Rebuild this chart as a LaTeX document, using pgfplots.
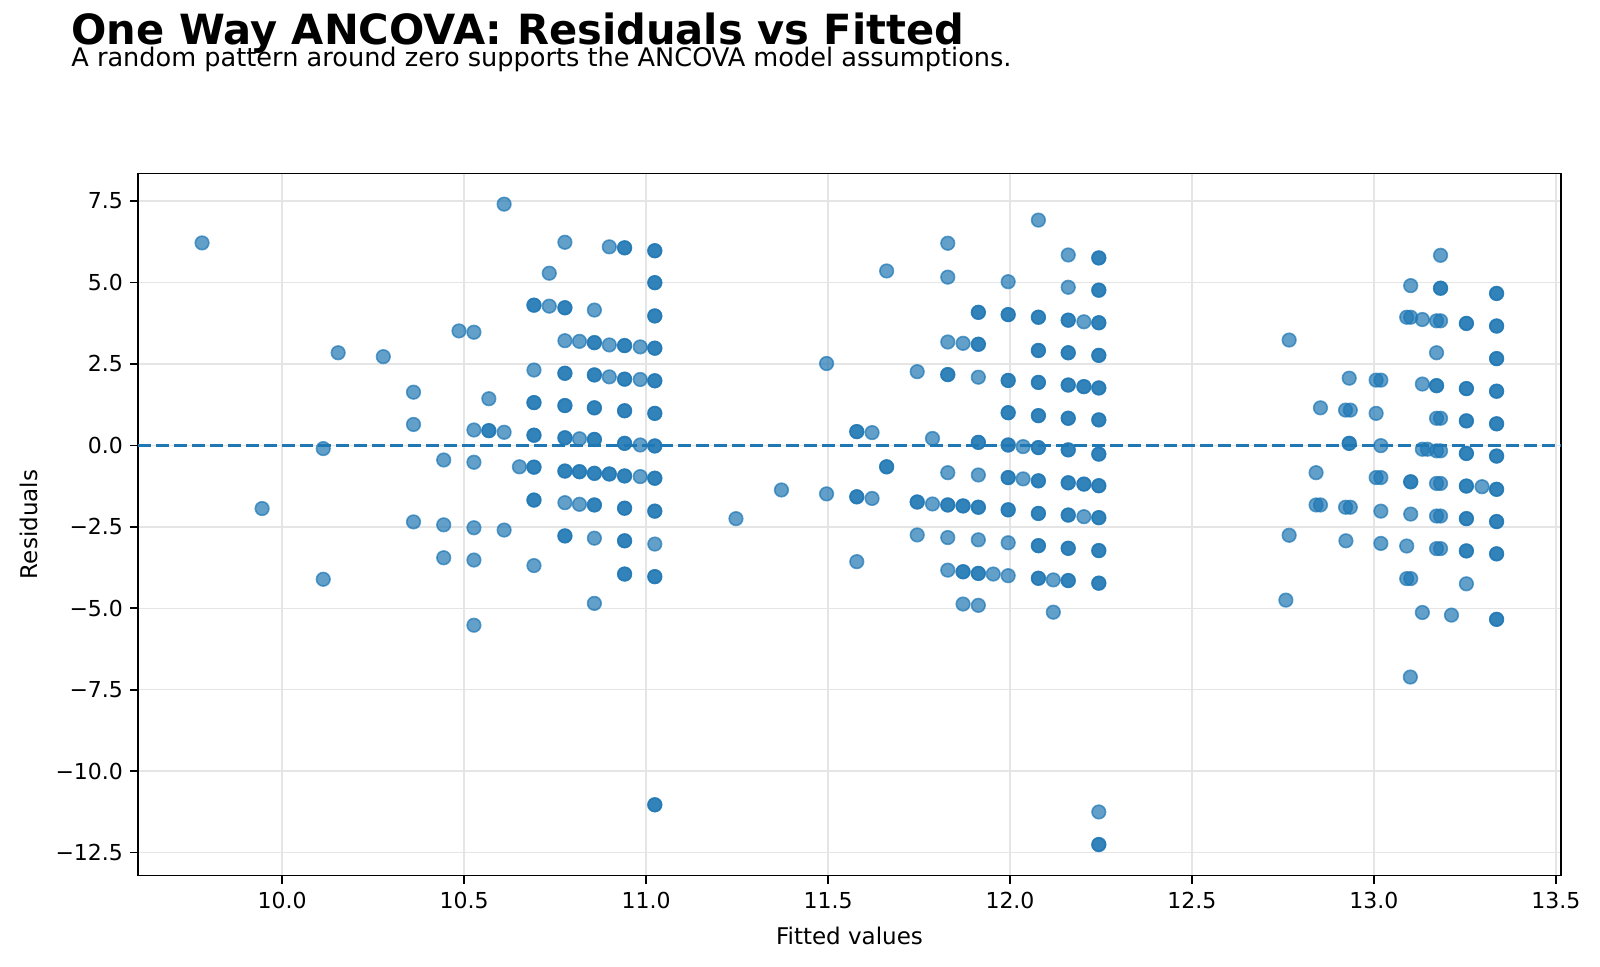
\documentclass[border=0pt]{standalone}
\usepackage{pgfplots}
\pgfplotsset{compat=1.18}
\usepackage{fontspec}
\setmainfont{DejaVu Sans}
\definecolor{tabblue}{RGB}{31,119,180}
\pgfplotstableread{
x y
9.780 6.21
9.945 -1.94
10.113 -0.10
10.113 -4.11
10.154 2.84
10.278 2.72
10.361 1.63
10.361 0.64
10.361 -2.35
10.444 -0.45
10.444 -2.44
10.444 -3.45
10.486 3.51
10.527 3.47
10.527 0.47
10.527 -0.52
10.527 -2.53
10.527 -3.52
10.527 -5.52
10.568 1.43
10.568 0.45
10.568 0.45
10.610 7.40
10.610 0.40
10.610 -2.60
10.652 -0.66
10.692 4.30
10.692 4.30
10.692 2.31
10.692 1.31
10.692 1.31
10.692 0.31
10.692 0.31
10.692 -0.67
10.692 -0.67
10.692 -1.68
10.692 -1.68
10.692 -3.69
10.734 5.28
10.734 4.27
10.777 6.23
10.777 4.22
10.777 4.22
10.777 3.21
10.777 2.21
10.777 2.21
10.777 1.22
10.777 1.22
10.777 0.23
10.777 0.23
10.777 -0.79
10.777 -0.79
10.777 -1.76
10.777 -2.78
10.777 -2.78
10.817 3.19
10.817 0.20
10.817 -0.81
10.817 -0.81
10.817 -1.81
10.858 4.15
10.858 3.15
10.858 3.15
10.858 2.16
10.858 2.16
10.858 1.15
10.858 1.15
10.858 0.18
10.858 0.18
10.858 -0.86
10.858 -0.86
10.858 -1.83
10.858 -1.83
10.858 -2.85
10.858 -4.85
10.899 6.09
10.899 3.08
10.899 2.10
10.899 -0.88
10.899 -0.88
10.941 6.06
10.941 6.06
10.941 3.06
10.941 3.06
10.941 2.03
10.941 2.03
10.941 1.06
10.941 1.06
10.941 0.06
10.941 0.06
10.941 -0.94
10.941 -0.94
10.941 -1.93
10.941 -1.93
10.941 -2.93
10.941 -2.93
10.941 -3.95
10.941 -3.95
10.984 3.02
10.984 2.02
10.984 0.01
10.984 -0.96
11.024 5.97
11.024 5.97
11.024 4.99
11.024 4.99
11.024 3.97
11.024 3.97
11.024 2.98
11.024 2.98
11.024 1.98
11.024 1.98
11.024 0.98
11.024 0.98
11.024 -0.02
11.024 -0.02
11.024 -1.01
11.024 -1.01
11.024 -2.02
11.024 -2.02
11.024 -3.03
11.024 -4.03
11.024 -4.03
11.024 -11.03
11.024 -11.03
}\groupA
\pgfplotstableread{
x y
11.247 -2.25
11.372 -1.37
11.496 2.51
11.496 -1.49
11.579 0.42
11.579 0.42
11.579 -1.58
11.579 -1.58
11.579 -3.57
11.621 0.39
11.621 -1.63
11.661 5.35
11.661 -0.66
11.661 -0.66
11.745 2.26
11.745 -1.74
11.745 -1.74
11.745 -2.75
11.787 0.21
11.787 -1.80
11.829 6.20
11.829 5.16
11.829 3.17
11.829 2.17
11.829 2.17
11.829 -0.84
11.829 -1.83
11.829 -1.83
11.829 -2.83
11.829 -3.83
11.871 3.13
11.871 -1.86
11.871 -1.86
11.871 -3.88
11.871 -3.88
11.871 -4.87
11.913 4.08
11.913 4.08
11.913 3.10
11.913 3.10
11.913 2.09
11.913 0.09
11.913 0.09
11.913 -0.91
11.913 -1.90
11.913 -1.90
11.913 -2.90
11.913 -3.93
11.913 -3.93
11.913 -4.91
11.954 -3.95
11.995 5.02
11.995 4.01
11.995 4.01
11.995 1.99
11.995 1.99
11.995 1.00
11.995 1.00
11.995 0.01
11.995 0.01
11.995 -0.99
11.995 -0.99
11.995 -1.98
11.995 -1.98
11.995 -2.99
11.995 -4.00
12.036 -0.04
12.036 -1.03
12.078 6.91
12.078 3.93
12.078 3.93
12.078 2.91
12.078 2.91
12.078 1.93
12.078 1.93
12.078 0.91
12.078 0.91
12.078 -0.07
12.078 -0.07
12.078 -1.09
12.078 -1.09
12.078 -2.09
12.078 -2.09
12.078 -3.08
12.078 -3.08
12.078 -4.08
12.078 -4.08
12.119 -4.13
12.119 -5.12
12.160 5.84
12.160 4.85
12.160 3.84
12.160 3.84
12.160 2.84
12.160 2.84
12.160 1.85
12.160 1.85
12.160 0.83
12.160 0.83
12.160 -0.14
12.160 -0.14
12.160 -1.15
12.160 -1.15
12.160 -2.14
12.160 -2.14
12.160 -3.16
12.160 -3.16
12.160 -4.15
12.160 -4.15
12.203 3.79
12.203 1.80
12.203 1.80
12.203 -1.19
12.203 -1.19
12.203 -2.19
12.244 5.75
12.244 5.75
12.244 4.76
12.244 4.76
12.244 3.76
12.244 3.76
12.244 2.76
12.244 2.76
12.244 1.76
12.244 1.76
12.244 0.78
12.244 0.78
12.244 -0.27
12.244 -0.27
12.244 -1.24
12.244 -1.24
12.244 -2.22
12.244 -2.22
12.244 -3.23
12.244 -3.23
12.244 -4.23
12.244 -4.23
12.244 -11.25
12.244 -12.25
12.244 -12.25
}\groupB
\pgfplotstableread{
x y
12.767 3.23
12.767 -2.76
12.758 -4.75
12.841 -0.84
12.841 -1.83
12.853 -1.83
12.853 1.15
12.932 2.06
12.932 0.06
12.932 0.06
12.922 1.08
12.935 1.08
12.922 -1.90
12.935 -1.90
12.923 -2.93
13.006 2.00
13.019 2.00
13.006 0.98
13.019 -0.01
13.006 -0.99
13.019 -0.99
13.019 -2.02
13.019 -3.01
13.101 4.90
13.090 3.93
13.101 3.93
13.101 -1.12
13.101 -1.12
13.101 -2.11
13.090 -3.09
13.090 -4.09
13.101 -4.09
13.100 -7.11
13.133 3.86
13.133 1.88
13.133 -0.12
13.147 -0.12
13.133 -5.13
13.183 5.83
13.183 4.82
13.183 4.82
13.172 3.82
13.183 3.82
13.172 2.84
13.172 1.83
13.172 1.83
13.172 0.83
13.183 0.83
13.172 -0.17
13.183 -0.17
13.172 -1.17
13.183 -1.17
13.172 -2.17
13.183 -2.17
13.172 -3.17
13.183 -3.17
13.213 -5.21
13.254 3.74
13.254 3.74
13.254 1.74
13.254 1.74
13.254 0.75
13.254 0.75
13.254 -0.25
13.254 -0.25
13.254 -1.25
13.254 -1.25
13.254 -2.25
13.254 -2.25
13.254 -3.24
13.254 -3.24
13.254 -4.25
13.297 -1.27
13.337 4.66
13.337 4.66
13.337 3.66
13.337 3.66
13.337 2.66
13.337 2.66
13.337 1.66
13.337 1.66
13.337 0.66
13.337 0.66
13.337 -0.33
13.337 -0.33
13.337 -1.35
13.337 -1.35
13.337 -2.34
13.337 -2.34
13.337 -3.33
13.337 -3.33
13.337 -5.34
13.337 -5.34
}\groupC
\begin{document}
\begin{tikzpicture}
\path[use as bounding box] (0,0) rectangle (800pt,483pt);
\begin{axis}[
  at={(69pt,45.25pt)}, anchor=south west,
  scale only axis, width=711.5pt, height=351pt,
  xmin=9.604, xmax=13.514, ymin=-13.2, ymax=8.34,
  xtick={10,10.5,11,11.5,12,12.5,13,13.5},
  xticklabels={10.0,10.5,11.0,11.5,12.0,12.5,13.0,13.5},
  ytick={-12.5,-10,-7.5,-5,-2.5,0,2.5,5,7.5},
  yticklabels={−12.5,−10.0,−7.5,−5.0,−2.5,0.0,2.5,5.0,7.5},
  tick align=outside, tick pos=left,
  major tick length=4pt,
  every tick/.style={black, line width=0.8pt},
  axis line style={line width=0.8pt, black},
  grid=major,
  major grid style={color=black!10, line width=0.75pt},
  ticklabel style={font=\fontsize{11pt}{13pt}\selectfont},
  xticklabel style={yshift=-1pt},
  xlabel={Fitted values},
  ylabel={Residuals},
  label style={font=\fontsize{11.5pt}{13pt}\selectfont},
  xlabel style={at={(axis description cs:0.5,0)}, anchor=base, yshift=-34.25pt},
  ylabel style={at={(axis description cs:-0.0703,0.5)}, anchor=base},
  clip=false,
]
\addplot[only marks, mark=*, mark size=3.4pt,
  mark options={fill=tabblue, draw=tabblue, opacity=0.7, line width=0.8pt}]
  table[x=x,y=y] {\groupA};
\addplot[only marks, mark=*, mark size=3.4pt,
  mark options={fill=tabblue, draw=tabblue, opacity=0.7, line width=0.8pt}]
  table[x=x,y=y] {\groupB};
\addplot[only marks, mark=*, mark size=3.4pt,
  mark options={fill=tabblue, draw=tabblue, opacity=0.7, line width=0.8pt}]
  table[x=x,y=y] {\groupC};
\addplot[tabblue, line width=1.7pt, dash pattern=on 6.3pt off 2.7pt]
  coordinates {(9.604,0) (13.514,0)};
\end{axis}
\node[anchor=base west, inner sep=0pt, font=\fontsize{20.8pt}{24pt}\selectfont\bfseries] at (35.5pt,460.5pt) {One Way ANCOVA: Residuals vs Fitted};
\node[anchor=base west, inner sep=0pt, font=\fontsize{12.8pt}{15pt}\selectfont] at (35.5pt,449.6pt) {A random pattern around zero supports the ANCOVA model assumptions.};
\end{tikzpicture}
\end{document}
